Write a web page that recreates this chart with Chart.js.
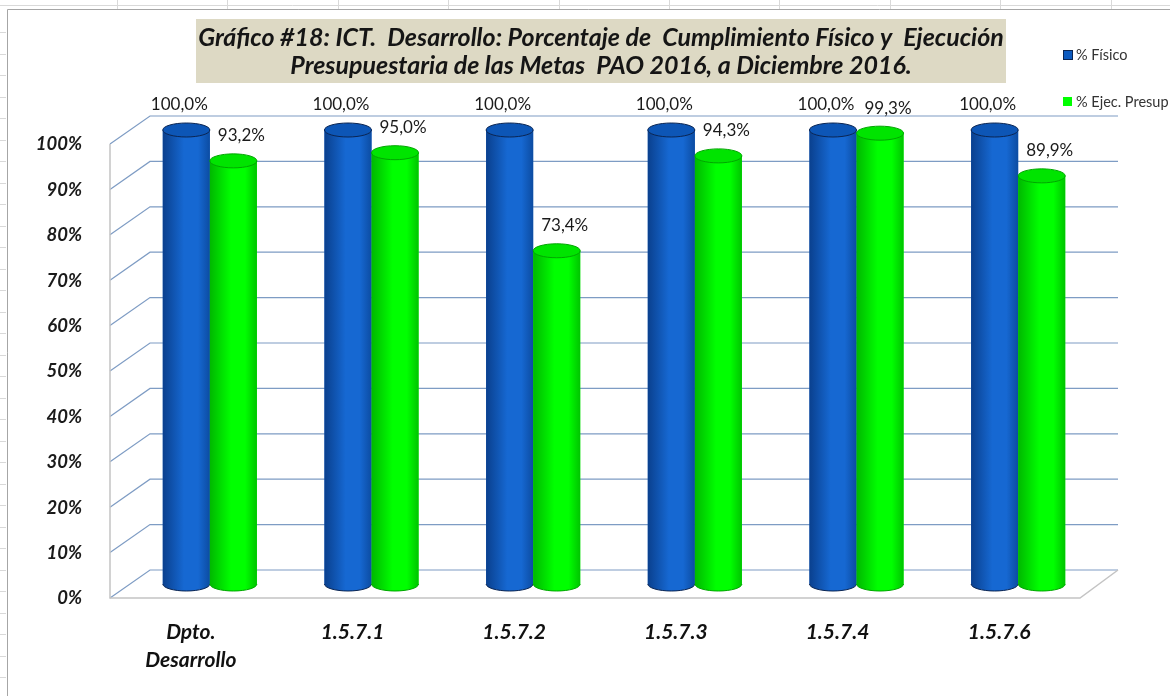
<!DOCTYPE html>
<html>
<head>
<meta charset="utf-8">
<script src="https://cdn.jsdelivr.net/npm/chart.js@4.4.1/dist/chart.umd.min.js"></script>
<style>
  html, body { margin: 0; padding: 0; background: #fff; }
  canvas { display: block; }
</style>
</head>
<body>
<canvas id="myChart" width="1170" height="696"></canvas>
<script>
// datos del gráfico
const categorias = [['Dpto.', 'Desarrollo'], '1.5.7.1', '1.5.7.2', '1.5.7.3', '1.5.7.4', '1.5.7.6'];
const fisico = [100, 100, 100, 100, 100, 100];
const ejecPresup = [93.2, 95.0, 73.4, 94.3, 99.3, 89.9];
const seriesNames = ['% Físico', '% Ejec. Presup'];
const tituloLineas = [
    'Gráfico #18: ICT.  Desarrollo: Porcentaje de  Cumplimiento Físico y  Ejecución',
    'Presupuestaria de las Metas  PAO 2016, a Diciembre 2016.'
];

const FONT = 'Lato, "Open Sans", sans-serif';
const colBlue = { l: '#0a408e', m: '#1668d2', r: '#0c4ca2', top: '#0d56b6', line: '#0b2552' };
const colGreen = { l: '#00b800', m: '#00ff00', r: '#00c400', top: '#00e400', line: '#00a600' };

function pct(v) {
    return v.toFixed(1).replace('.', ',') + '%';
}

function cylinder(ctx, x, w, top, base, c) {
    const rx = w / 2, ry = 7, l = x - rx, r = x + rx;
    const g = ctx.createLinearGradient(l, 0, r, 0);
    g.addColorStop(0, c.l);
    g.addColorStop(0.45, c.m);
    g.addColorStop(0.75, c.m);
    g.addColorStop(1, c.r);
    ctx.beginPath();
    ctx.moveTo(l, top);
    ctx.lineTo(l, base);
    ctx.ellipse(x, base, rx, ry, 0, Math.PI, 0, true);
    ctx.lineTo(r, top);
    ctx.closePath();
    ctx.fillStyle = g;
    ctx.fill();
    ctx.beginPath();
    ctx.ellipse(x, base, rx, ry, 0, Math.PI, 0, true);
    ctx.strokeStyle = c.line;
    ctx.lineWidth = 1;
    ctx.stroke();
    ctx.beginPath();
    ctx.ellipse(x, top, rx, ry, 0, 0, Math.PI * 2);
    ctx.fillStyle = c.top;
    ctx.fill();
    ctx.strokeStyle = c.line;
    ctx.stroke();
}

const decor = {
    id: 'decor',
    beforeDraw(chart) {
        const ctx = chart.ctx;
        ctx.save();
        ctx.fillStyle = '#fff';
        ctx.fillRect(0, 0, chart.width, chart.height);
        // hoja de cálculo detrás
        ctx.strokeStyle = '#d9d9d9';
        ctx.lineWidth = 1;
        ctx.beginPath();
        ctx.moveTo(0, 5.5); ctx.lineTo(chart.width, 5.5);
        for (let x = 117; x < chart.width; x += 110.4) {
            ctx.moveTo(Math.round(x) + 0.5, 0); ctx.lineTo(Math.round(x) + 0.5, 9);
        }
        for (let y = 32; y < chart.height; y += 21.5) {
            ctx.moveTo(0, Math.round(y) + 0.5); ctx.lineTo(6, Math.round(y) + 0.5);
        }
        ctx.stroke();
        ctx.strokeStyle = '#a6a6a6';
        ctx.beginPath();
        ctx.moveTo(7.5, chart.height); ctx.lineTo(7.5, 9.5); ctx.lineTo(chart.width, 9.5);
        ctx.stroke();
        // título
        ctx.fillStyle = '#ddd9c4';
        ctx.fillRect(196, 19, 810, 64);
        ctx.fillStyle = '#151515';
        ctx.font = 'italic bold 25px ' + FONT;
        ctx.textAlign = 'center';
        ctx.textBaseline = 'middle';
        ctx.fillText(tituloLineas[0], 601, 38);
        ctx.fillText(tituloLineas[1], 601, 66);
        // leyenda
        ctx.font = '14.5px ' + FONT;
        ctx.textAlign = 'left';
        ctx.fillStyle = '#0d5bc0';
        ctx.fillRect(1063.5, 50.5, 9, 9);
        ctx.strokeStyle = '#0b2552';
        ctx.strokeRect(1063.5, 50.5, 9, 9);
        ctx.fillStyle = '#00ff00';
        ctx.fillRect(1063, 97, 9, 9);
        ctx.fillStyle = '#333';
        ctx.fillText(seriesNames[0], 1076, 55);
        ctx.fillText(seriesNames[1], 1076, 102);
        ctx.restore();
    },
    beforeDatasetsDraw(chart) {
        const ctx = chart.ctx, ys = chart.scales.y, area = chart.chartArea;
        const bottom = ys.getPixelForValue(0);
        const backL = area.left + 21, frontL = area.left - 19, backR = 1118;
        ctx.save();
        ctx.lineWidth = 1.2;
        ctx.strokeStyle = '#7e9cc4';
        for (let v = 0; v <= 100; v += 10) {
            const y = ys.getPixelForValue(v);
            ctx.beginPath();
            ctx.moveTo(frontL, y + 14);
            ctx.lineTo(backL, y - 14);
            ctx.lineTo(backR, y - 14);
            ctx.stroke();
        }
        // piso y pared
        const top = ys.getPixelForValue(100) + 14;
        ctx.strokeStyle = '#c4c4c4';
        ctx.lineWidth = 1.5;
        ctx.beginPath();
        ctx.moveTo(frontL, top);
        ctx.lineTo(frontL, bottom + 14);
        ctx.lineTo(backR - 38, bottom + 14);
        ctx.lineTo(backR, bottom - 14);
        ctx.stroke();
        ctx.restore();
    },
    afterDatasetsDraw(chart) {
        const ctx = chart.ctx;
        ctx.save();
        chart.data.datasets.forEach((ds, i) => {
            const meta = chart.getDatasetMeta(i);
            meta.data.forEach(bar => {
                cylinder(ctx, bar.x, bar.width, bar.y, bar.base, i === 0 ? colBlue : colGreen);
            });
        });
        ctx.font = '17px ' + FONT;
        ctx.fillStyle = '#1a1a1a';
        ctx.textAlign = 'center';
        ctx.textBaseline = 'middle';
        chart.data.datasets.forEach((ds, i) => {
            const meta = chart.getDatasetMeta(i);
            meta.data.forEach((bar, j) => {
                ctx.fillText(pct(ds.data[j]), bar.x + (i === 0 ? -7 : 8), bar.y - 25);
            });
        });
        ctx.restore();
    }
};

const ctx = document.getElementById('myChart').getContext('2d');
const myChart = new Chart(ctx, {
    type: 'bar',
    data: {
        labels: categorias,
        datasets: [{
            label: seriesNames[0],
            data: fisico,
            backgroundColor: '#1560c8'
        }, {
            label: seriesNames[1],
            data: ejecPresup,
            backgroundColor: '#00ff00'
        }]
    },
    options: {
        responsive: false,
        animation: false,
        categoryPercentage: 0.582,
        barPercentage: 1,
        layout: {
            padding: { left: 0, top: 130, right: 71, bottom: 0 }
        },
        plugins: {
            legend: { display: false },
            title: { display: false },
            tooltip: { enabled: false }
        },
        scales: {
            x: {
                grid: { display: false },
                border: { display: false },
                afterFit: (s) => { s.height = 112; },
                ticks: {
                    autoSkip: false,
                    maxRotation: 0,
                    padding: 26,
                    labelOffset: -19,
                    color: '#111',
                    font: { family: FONT, size: 21, weight: 'bold', style: 'italic', lineHeight: 1.35 }
                }
            },
            y: {
                min: 0,
                max: 100,
                grid: { display: false },
                border: { display: false },
                afterFit: (s) => { s.width = 129; },
                ticks: {
                    stepSize: 10,
                    padding: 39,
                    labelOffset: 14.5,
                    color: '#1a1a1a',
                    font: { family: FONT, size: 18.5, weight: 'bold', style: 'italic' },
                    callback: (v) => v + '%'
                }
            }
        }
    },
    plugins: [decor]
});
</script>
</body>
</html>
